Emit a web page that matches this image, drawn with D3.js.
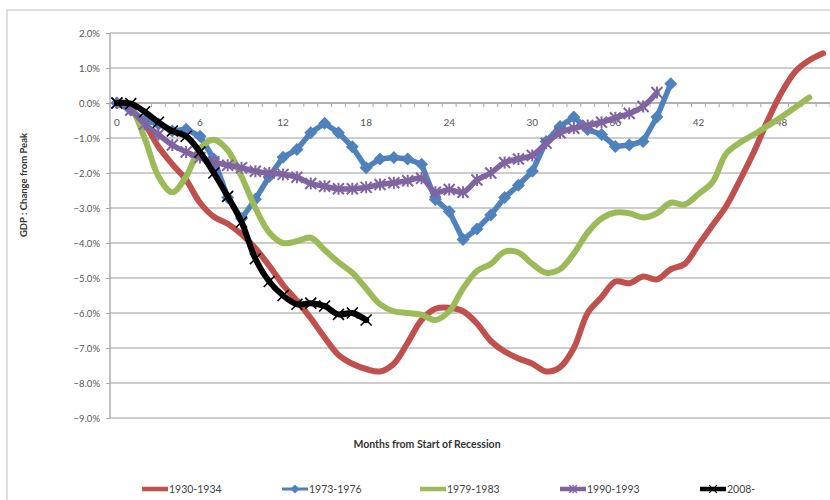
<!DOCTYPE html>
<html><head><meta charset="utf-8">
<script src="https://cdn.jsdelivr.net/npm/d3@7"></script>
<style>body{margin:0;background:#fff}svg{display:block}</style>
</head><body><svg id="c" width="830" height="500"></svg>
<script>
// ---- data (percent change from peak, by month from start of recession) ----
const seriesNames = ["1930-1934", "1973-1976", "1979-1983", "1990-1993", "2008-"];
const seriesColors = ["#c0504d", "#4f81bd", "#9bbb59", "#8064a2", "#000000"];

const gdp1930 = [0.0, -0.2, -0.6, -1.25, -1.75, -2.2, -2.85, -3.25, -3.45, -3.75,
  -4.15, -4.65, -5.2, -5.65, -6.15, -6.7, -7.2, -7.45, -7.6, -7.67,
  -7.45, -6.85, -6.2, -5.88, -5.85, -5.95, -6.3, -6.8, -7.1, -7.3,
  -7.45, -7.67, -7.55, -7.0, -6.0, -5.55, -5.1, -5.15, -4.96, -5.04,
  -4.75, -4.6, -4.05, -3.5, -2.95, -2.2, -1.4, -0.5, 0.3, 0.9,
  1.22, 1.42];
const gdp1973 = [0.0, -0.2, -0.5, -0.6, -0.8, -0.75, -0.95, -1.6, -2.7, -3.3,
  -2.75, -2.1, -1.55, -1.33, -0.85, -0.58, -0.85, -1.25, -1.85, -1.6,
  -1.56, -1.6, -1.75, -2.76, -3.1, -3.9, -3.6, -3.2, -2.7, -2.35,
  -1.95, -1.1, -0.67, -0.4, -0.76, -0.9, -1.24, -1.2, -1.1, -0.4,
  0.55];
const gdp1979 = [0.0, -0.15, -1.0, -2.1, -2.55, -2.1, -1.3, -1.05, -1.35, -2.1,
  -3.0, -3.7, -4.0, -3.95, -3.85, -4.2, -4.55, -4.85, -5.3, -5.75,
  -5.95, -6.0, -6.05, -6.2, -5.95, -5.3, -4.8, -4.6, -4.25, -4.27,
  -4.6, -4.85, -4.75, -4.3, -3.7, -3.3, -3.13, -3.15, -3.27, -3.15,
  -2.85, -2.9, -2.6, -2.27, -1.45, -1.13, -0.9, -0.65, -0.4, -0.12,
  0.16];
const gdp1990 = [0.0, -0.2, -0.6, -0.9, -1.2, -1.4, -1.56, -1.68, -1.78, -1.85,
  -1.95, -2.0, -2.04, -2.12, -2.3, -2.38, -2.45, -2.45, -2.41, -2.33,
  -2.28, -2.22, -2.15, -2.55, -2.47, -2.55, -2.2, -2.0, -1.7, -1.6,
  -1.5, -1.15, -0.85, -0.72, -0.64, -0.55, -0.42, -0.3, -0.1, 0.3];
const gdp2008 = [0.0, -0.02, -0.25, -0.55, -0.8, -0.95, -1.4, -2.0, -2.67, -3.4,
  -4.45, -5.1, -5.5, -5.75, -5.72, -5.8, -6.04, -6.0, -6.2];

const seriesValues = [gdp1930, gdp1973, gdp1979, gdp1990, gdp2008];
const yTicks = [2, 1, 0, -1, -2, -3, -4, -5, -6, -7, -8, -9];
const xTickLabels = [0, 6, 12, 18, 24, 30, 36, 42, 48];
const monthCount = 52;

const yTitle = "GDP : Change from Peak";
const xTitle = "Months from Start of Recession";

// ---- layout ----
const svg = d3.select("#c");
const plotL = 110, plotR = 830, plotT = 33, plotB = 418;
const x = d3.scaleBand().domain(d3.range(monthCount)).range([plotL, plotR]);
const xc = i => x(i) + x.bandwidth() / 2;
const y = d3.scaleLinear().domain([-9, 2]).range([plotB, plotT]);
const font = "Lato, 'Open Sans', sans-serif";

// outer chart frame
svg.append("rect").attr("x", 7).attr("y", 10).attr("width", 840).attr("height", 520)
  .attr("fill", "none").attr("stroke", "#c8c8c8").attr("stroke-width", 1.2);

// gridlines
svg.append("g").selectAll("line").data(yTicks).join("line")
  .attr("x1", plotL).attr("x2", plotR)
  .attr("y1", d => y(d)).attr("y2", d => y(d))
  .attr("stroke", "#bdbdbd").attr("stroke-width", 1.4);

// y axis
const yAxis = d3.axisLeft(y).tickValues(yTicks).tickSize(5)
  .tickFormat(d => d3.format(".1f")(d) + "%");
const gy = svg.append("g").attr("transform", `translate(${plotL},0)`).call(yAxis);
gy.select(".domain").attr("stroke", "#a8a8a8").attr("stroke-width", 1.4)
  .attr("d", `M0,${plotT}V${plotB}`);
gy.selectAll(".tick line").attr("stroke", "#a8a8a8").attr("x2", -4);
gy.selectAll(".tick text").attr("x", -10).attr("font-family", font)
  .attr("font-size", 9.5).attr("fill", "#555");

// x axis at zero line
const gx = svg.append("g").attr("transform", `translate(0,${y(0)})`);
gx.append("line").attr("x1", plotL).attr("x2", plotR).attr("stroke", "#a8a8a8").attr("stroke-width", 1.4);
gx.selectAll("line.tk").data(d3.range(monthCount + 1)).join("line").attr("class", "tk")
  .attr("x1", d => plotL + d * x.step()).attr("x2", d => plotL + d * x.step())
  .attr("y1", 0).attr("y2", 4).attr("stroke", "#a8a8a8").attr("stroke-width", 1);
gx.selectAll("text").data(xTickLabels).join("text")
  .attr("x", d => xc(d)).attr("y", 22.5).attr("text-anchor", "middle")
  .attr("font-family", font).attr("font-size", 10).attr("fill", "#555")
  .text(d => d);

// axis titles
svg.append("text").attr("transform", "translate(27,185) rotate(-90)")
  .attr("text-anchor", "middle").attr("font-family", font).attr("font-weight", "bold")
  .attr("font-size", 9.5).attr("fill", "#333").text(yTitle);
svg.append("text").attr("x", 427).attr("y", 448).attr("text-anchor", "middle")
  .attr("font-family", font).attr("font-weight", "bold")
  .attr("font-size", 10.5).attr("fill", "#333").text(xTitle);

// series
const smooth = d3.line().x((d, i) => xc(i)).y(d => y(d)).curve(d3.curveCatmullRom.alpha(0.5));
const straight = d3.line().x((d, i) => xc(i)).y(d => y(d));
const lineWidths = [6, 5.5, 6, 5.5, 6];
const gens = [smooth, straight, smooth, smooth, smooth];
const starPath = "M-5.5,-5.5L5.5,5.5M-5.5,5.5L5.5,-5.5M0,-6L0,6";
const xPath = "M-5.5,-5.5L5.5,5.5M-5.5,5.5L5.5,-5.5";
const diamond = "M0,-6.5L6.5,0L0,6.5L-6.5,0Z";

function drawMarker(sel, k) {
  if (k === 1) {
    sel.append("path").attr("d", diamond).attr("fill", seriesColors[1]);
  } else if (k === 3) {
    sel.append("path").attr("d", starPath).attr("stroke", seriesColors[3]).attr("stroke-width", 2).attr("fill", "none");
  } else if (k === 4) {
    sel.append("path").attr("d", xPath).attr("stroke", "#000").attr("stroke-width", 1.7).attr("fill", "none");
  }
}

seriesValues.forEach((vals, k) => {
  const g = svg.append("g");
  g.append("path").attr("d", gens[k](vals)).attr("fill", "none")
    .attr("stroke", seriesColors[k]).attr("stroke-width", lineWidths[k])
    .attr("stroke-linejoin", "round").attr("stroke-linecap", "round");
  if (k === 1 || k === 3 || k === 4) {
    vals.forEach((v, i) => {
      const m = g.append("g").attr("transform", `translate(${xc(i)},${y(v)})`);
      drawMarker(m, k);
    });
  }
});

// legend
const legendX = [142, 282, 420, 560, 700];
const lg = svg.append("g");
seriesNames.forEach((name, k) => {
  const item = lg.append("g").attr("transform", `translate(${legendX[k]},489)`);
  item.append("line").attr("x1", 0).attr("x2", 26).attr("stroke", seriesColors[k])
    .attr("stroke-width", k === 1 ? 3 : 4.5);
  const m = item.append("g").attr("transform", "translate(13,0) scale(0.7)");
  drawMarker(m, k);
  item.append("text").attr("x", 27).attr("y", 3.5).attr("font-family", font)
    .attr("font-size", 10.5).attr("fill", "#444").text(name);
});
</script></body></html>
